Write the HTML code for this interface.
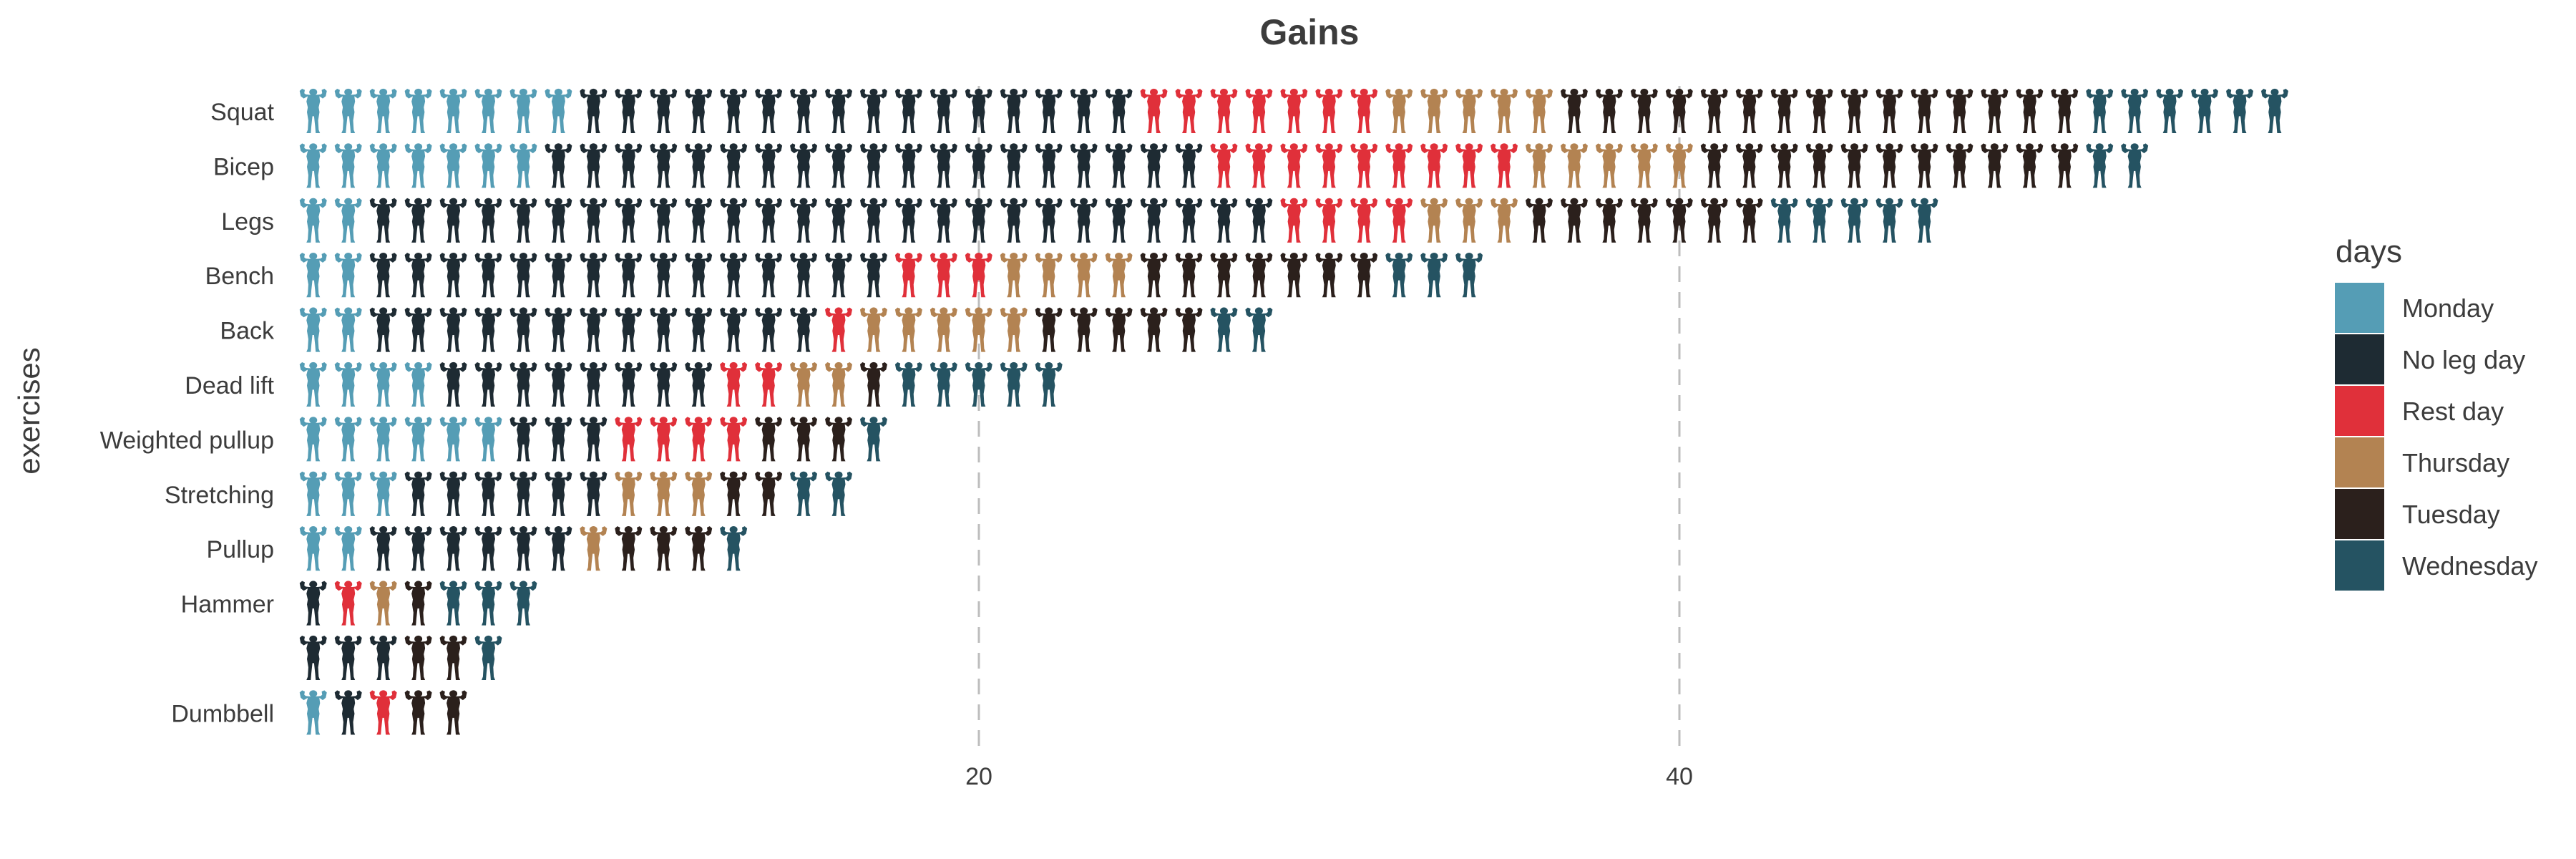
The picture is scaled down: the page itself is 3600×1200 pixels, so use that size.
<!DOCTYPE html>
<html><head><meta charset="utf-8"><style>
html,body{margin:0;padding:0;background:#fff;}
svg{display:block;font-family:"Liberation Sans",Arial,sans-serif;}
</style></head><body>
<svg id="chart" width="3600" height="1200" viewBox="0 0 3600 1200" xmlns="http://www.w3.org/2000/svg">
<defs>
<g id="lifter">
<circle cx="12" cy="4" r="2.9"/>
<path d="M8,7.5 L5,9.5 L2.8,7.5 L2,3 L3.8,1.2 L5.8,2.2 L5.4,5 L6.5,6 L9,6.3 L15,6.3 L17.5,6 L18.6,5 L18.2,2.2 L20.2,1.2 L22,3 L21.2,7.5 L19,9.5 L16.5,7.5 L17,12 L16,17 L16.6,21 L15.6,28 L16,36 L17,38.8 L13.8,38.8 L13.4,33 L12.6,24.5 L11.4,24.5 L10.6,33 L10.2,38.8 L7,38.8 L8,36 L8.4,28 L7.4,21 L8,17 L7,12 Z"/>
</g>
</defs>
<text x="1830" y="62" text-anchor="middle" font-size="50" font-weight="bold" fill="#3c3c3c">Gains</text>
<text transform="translate(55,574) rotate(-90)" text-anchor="middle" font-size="42" fill="#3c3c3c">exercises</text>
<g id="grid"></g>
<g id="ylabels"></g>
<g id="xlabels"></g>
<g id="marks"></g>
<g id="legend"></g>
</svg>
<script>
const exercises = ["Squat","Bicep","Legs","Bench","Back","Dead lift","Weighted pullup","Stretching","Pullup","Hammer","","Dumbbell"];
const dayNames = ["Monday","No leg day","Rest day","Thursday","Tuesday","Wednesday"];
const monday    = [8,7,2,2,2,4,6,3,2,0,0,1];
const noLegDay  = [16,19,26,15,13,8,3,6,6,1,3,1];
const restDay   = [7,9,4,3,1,2,4,0,0,1,0,1];
const thursday  = [5,5,3,4,5,2,0,3,1,1,0,0];
const tuesday   = [15,11,7,7,5,1,3,2,3,1,2,2];
const wednesday = [6,2,5,3,2,5,1,2,1,3,1,0];
const xTicks = [20,40];

const series = [monday,noLegDay,restDay,thursday,tuesday,wednesday];
const colors = ["#559db5","#1e2b33","#e0303a","#b38352","#2b201c","#255362"];
const NS = "http://www.w3.org/2000/svg";
function xScale(n){ return 389 + n*48.95; }
function yScale(i){ return 156 + i*76.4; }
function mk(tag, attrs, parent){ const e=document.createElementNS(NS,tag); for(const k in attrs) e.setAttribute(k,attrs[k]); parent.appendChild(e); return e; }

const grid=document.getElementById('grid'), xl=document.getElementById('xlabels');
xTicks.forEach(t=>{
  const l=mk('line',{x1:xScale(t),x2:xScale(t),y1:120,y2:1045,stroke:'#bdbdbd','stroke-width':3,'stroke-dasharray':'22,14'},grid);
  
  
  const tx=mk('text',{x:xScale(t),y:1096,'text-anchor':'middle','font-size':34,fill:'#3c3c3c'},xl);
  tx.textContent=t;
  
  
});

const yl=document.getElementById('ylabels'), marks=document.getElementById('marks');
exercises.forEach((ex,i)=>{
  const y=yScale(i);
  const tx=mk('text',{x:383,y:y+12,'text-anchor':'end','font-size':34,fill:'#3c3c3c'},yl);
  tx.textContent=ex;
  
  
  let n=0;
  series.forEach((s,d)=>{
    for(let k=0;k<s[i];k++){
      n++;
      const u=mk('use',{href:'#lifter',transform:'translate('+(xScale(n)-23)+','+(y-34)+') scale(1.9,1.65)',fill:colors[d]},marks);
      
      
    }
  });
});

const lg=document.getElementById('legend');
const lt=mk('text',{x:3264,y:366,'font-size':44,fill:'#3c3c3c'},lg);
lt.textContent='days';


dayNames.forEach((d,j)=>{
  const y=395+j*72;
  const r=mk('rect',{x:3263,y:y,width:69,height:70,fill:colors[j]},lg);
  
  
  const t=mk('text',{x:3357,y:y+48,'font-size':36,fill:'#3c3c3c'},lg);
  t.textContent=d;
  
  
});
</script>
</body></html>
